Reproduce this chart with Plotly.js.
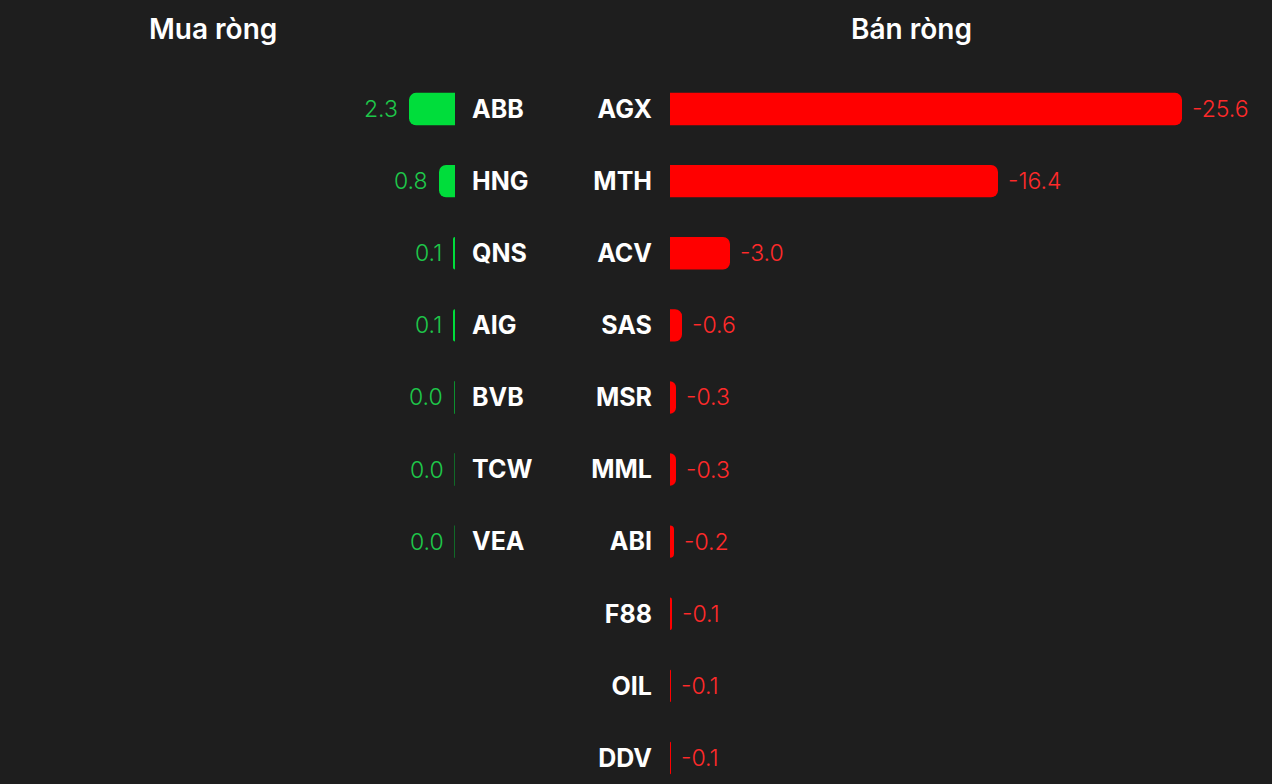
<!DOCTYPE html>
<html>
<head>
<meta charset="utf-8">
<script src="https://cdn.plot.ly/plotly-3.0.1.min.js"></script>
<style>
html,body{margin:0;padding:0;background:#1e1e1e;}
#chart{width:1272px;height:784px;}
</style>
</head>
<body>
<div id="chart"></div>
<script>
// Data
var buyTickers = ['ABB','HNG','QNS','AIG','BVB','TCW','VEA'];
var buyValues  = [2.3, 0.8, 0.1, 0.1, 0.03, 0.02, 0.02];
var sellTickers = ['AGX','MTH','ACV','SAS','MSR','MML','ABI','F88','OIL','DDV'];
var sellValues  = [-25.6, -16.4, -3.0, -0.6, -0.3, -0.3, -0.2, -0.1, -0.05, -0.05];
var titles = ['Mua ròng', 'Bán ròng'];

var W = 1272, H = 784;
var pxPerUnit = 20;
var leftZero = 455, rightZero = 670;
var rowPx = 72.1, topPx = 73;
var plotH = H - topPx;
var yEnd = -0.5 + plotH / rowPx;

var GREEN = '#00dd3b', GREEN_T = '#1ec84a';
var RED = '#ff0000', RED_T = '#ff2a2a';

var buyTrace = {
  type: 'bar', orientation: 'h',
  x: buyValues, y: buyTickers,
  xaxis: 'x', yaxis: 'y',
  width: 0.45,
  marker: {color: GREEN, cornerradius: 7},
  hoverinfo: 'none'
};
var sellTrace = {
  type: 'bar', orientation: 'h',
  x: sellValues, y: sellTickers,
  xaxis: 'x2', yaxis: 'y2',
  width: 0.45,
  marker: {color: RED, cornerradius: 7},
  hoverinfo: 'none'
};

var annotations = [];
buyValues.forEach(function(v, i){
  annotations.push({
    xref: 'x', yref: 'y', x: v, y: buyTickers[i],
    text: v.toFixed(1), showarrow: false,
    xanchor: 'right', yanchor: 'middle', xshift: -9,
    font: {family: 'Inter, sans-serif', size: 23, color: GREEN_T, weight: 300}
  });
});
sellValues.forEach(function(v, i){
  annotations.push({
    xref: 'x2', yref: 'y2', x: v, y: sellTickers[i],
    text: v.toFixed(1), showarrow: false,
    xanchor: 'left', yanchor: 'middle', xshift: 8,
    font: {family: 'Inter, sans-serif', size: 23, color: RED_T, weight: 300}
  });
});
var titleX = [213, 912];
titles.forEach(function(t, i){
  annotations.push({
    xref: 'paper', yref: 'paper', x: titleX[i] / W, y: 1 + (topPx - 29) / plotH,
    text: t, showarrow: false, xanchor: 'center', yanchor: 'middle',
    font: {family: 'Inter, sans-serif', size: 28, color: '#ffffff', weight: 600}
  });
});

var tickFont = {family: 'Inter, sans-serif', size: 25, color: '#ffffff', weight: 700};

var layout = {
  width: W, height: H,
  paper_bgcolor: '#1e1e1e', plot_bgcolor: '#1e1e1e',
  margin: {l: 0, r: 0, t: topPx, b: 0},
  showlegend: false,
  xaxis: {domain: [0, leftZero / W], range: [leftZero / pxPerUnit, 0],
          showgrid: false, zeroline: false, showticklabels: false, fixedrange: true},
  xaxis2: {domain: [rightZero / W, 1], range: [0, -(W - rightZero) / pxPerUnit],
           showgrid: false, zeroline: false, showticklabels: false, fixedrange: true},
  yaxis: {anchor: 'x', side: 'right', type: 'category', categoryorder: 'array', categoryarray: buyTickers,
          range: [yEnd, -0.5], showgrid: false, zeroline: false, showline: false,
          ticks: '', ticklabelstandoff: 16, tickfont: tickFont},
  yaxis2: {anchor: 'x2', side: 'left', type: 'category', categoryorder: 'array', categoryarray: sellTickers,
           range: [yEnd, -0.5], showgrid: false, zeroline: false, showline: false,
           ticks: '', ticklabelstandoff: 17, tickfont: tickFont},
  annotations: annotations
};

Plotly.newPlot('chart', [buyTrace, sellTrace], layout, {displayModeBar: false, staticPlot: true});
</script>
</body>
</html>
